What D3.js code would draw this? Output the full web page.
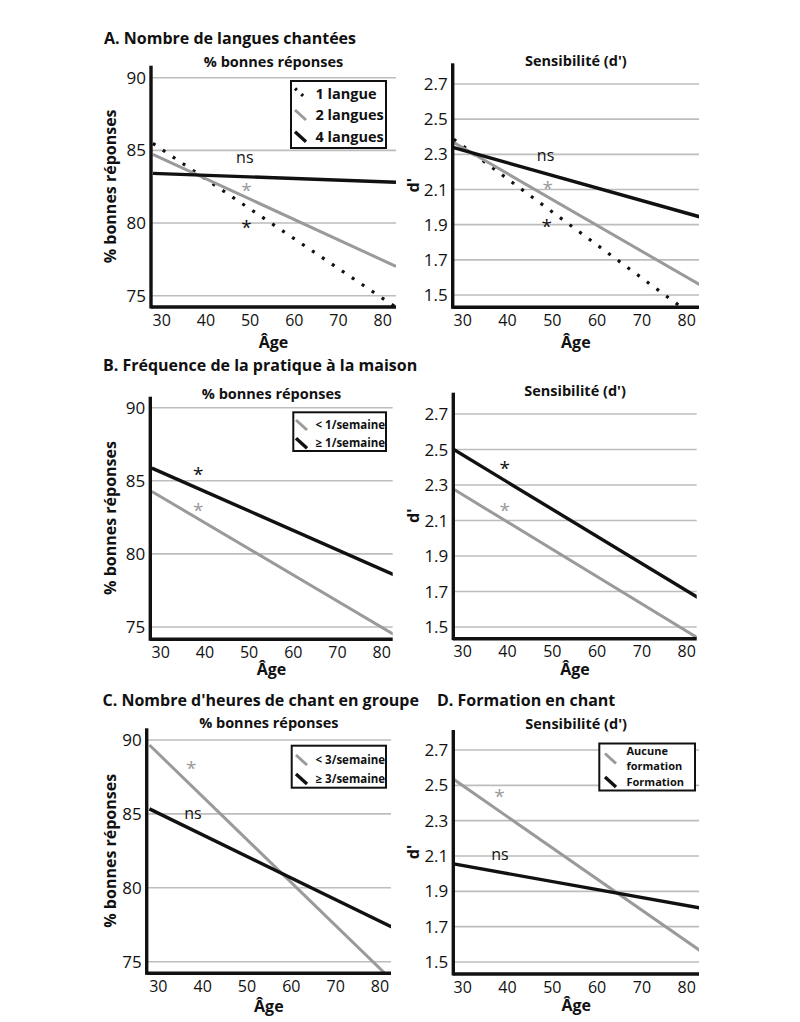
<!DOCTYPE html>
<html><head><meta charset="utf-8">
<script src="https://cdn.jsdelivr.net/npm/d3@7"></script>
<style>
body{margin:0;background:#fff;}
svg{display:block;font-family:"Open Sans",sans-serif;}
</style></head>
<body><svg id="c" width="800" height="1022"></svg>
<script>
// ---------- data ----------
const ages = [28, 83];
const xTicks = [30, 40, 50, 60, 70, 80];
const pctTicks = [75, 80, 85, 90];
const dTicks = [1.5, 1.7, 1.9, 2.1, 2.3, 2.5, 2.7];

// A. Nombre de langues chantées
const langueNames = ["1 langue", "2 langues", "4 langues"];
const A_pct_1 = [85.48, 74.2];
const A_pct_2 = [84.72, 77.02];
const A_pct_4 = [83.42, 82.81];
const A_d_1 = [2.386, 1.352];
const A_d_2 = [2.367, 1.557];
const A_d_4 = [2.338, 1.944];

// B. Fréquence de la pratique à la maison
const freqNames = ["< 1/semaine", "\u2265 1/semaine"];
const B_pct_lt = [84.27, 74.44];
const B_pct_ge = [85.87, 78.54];
const B_d_lt = [2.276, 1.43];
const B_d_ge = [2.5, 1.658];

// C. Nombre d'heures de chant en groupe
const heuresNames = ["< 3/semaine", "\u2265 3/semaine"];
const C_pct_lt = [89.66, 73.66];
const C_pct_ge = [85.34, 77.29];

// D. Formation en chant
const formNames = [["Aucune", "formation"], ["Formation"]];
const D_d_aucune = [2.534, 1.564];
const D_d_form = [2.055, 1.806];

// annotations [age, value, text, kind]
const A_pct_notes = [[48.8, 84.56, "ns", "k"], [49.2, 82.5, "*", "g"], [49.2, 79.93, "*", "k"]];
const A_d_notes = [[48.5, 2.296, "ns", "k"], [49.0, 2.126, "*", "g"], [48.75, 1.908, "*", "k"]];
const B_pct_notes = [[38.5, 85.7, "*", "k"], [38.5, 83.24, "*", "g"]];
const B_d_notes = [[39.4, 2.41, "*", "k"], [39.4, 2.178, "*", "g"]];
const C_pct_notes = [[37.4, 88.31, "*", "g"], [37.8, 85.05, "ns", "k"]];
const D_d_notes = [[38.2, 2.455, "*", "g"], [38.3, 2.111, "ns", "k"]];

// ---------- styles ----------
const GRAY = "#9a9a9a", BLACK = "#111", GRID = "#bdbdbd";
const styles = {
  dot: {color: BLACK, dash: "3,9", width: 3.2},
  gray: {color: GRAY, dash: null, width: 3},
  black: {color: BLACK, dash: null, width: 3.4}
};

const svg = d3.select("#c");

// section titles
const titles = [
  ["A. Nombre de langues chantées", 104, 44],
  ["B. Fréquence de la pratique à la maison", 103, 371],
  ["C. Nombre d'heures de chant en groupe", 102.5, 706],
  ["D. Formation en chant", 437, 706]
];
svg.selectAll("text.title").data(titles).join("text").attr("class", "title")
  .attr("x", d => d[1]).attr("y", d => d[2])
  .attr("font-size", 16).attr("font-weight", 700).attr("fill", BLACK)
  .text(d => d[0]);

const panels = [
  {id: "al", x30: 161.7, x80: 382.7, ax: 151, right: 396, yLo: [75, 295.7], yHi: [90, 77.7], top: 65.7, bot: 307,
   ticks: pctTicks, fmt: d3.format("d"), sub: "% bonnes réponses", subY: 62, ylab: "% bonnes réponses", ylabX: 110, ageY: 342,
   series: [[A_pct_1, "dot"], [A_pct_2, "gray"], [A_pct_4, "black"]], notes: A_pct_notes,
   legend: {x: 291, y: 81, w: 95, h: 67, fs: 14.5, rows: [[[langueNames[0]], "dot", 93.5], [[langueNames[1]], "gray", 115], [[langueNames[2]], "black", 136.7]], symX: 295, textX: 315.5}},
  {id: "ar", x30: 462.7, x80: 686.7, ax: 452.7, right: 699, yLo: [1.5, 295], yHi: [2.7, 84], top: 63.3, bot: 307.3,
   ticks: dTicks, fmt: d3.format(".1f"), sub: "Sensibilité (d')", subY: 61, ylab: "d'", ylabX: 413, ageY: 342,
   series: [[A_d_1, "dot"], [A_d_2, "gray"], [A_d_4, "black"]], notes: A_d_notes},
  {id: "bl", x30: 160.7, x80: 381.7, ax: 150.3, right: 392.7, yLo: [75, 627], yHi: [90, 407.7], top: 396.7, bot: 639.3,
   ticks: pctTicks, fmt: d3.format("d"), sub: "% bonnes réponses", subY: 393.5, ylab: "% bonnes réponses", ylabX: 110, ageY: 669.5,
   series: [[B_pct_lt, "gray"], [B_pct_ge, "black"]], notes: B_pct_notes,
   legend: {x: 293.3, y: 412.3, w: 92.7, h: 38.7, fs: 11.5, rows: [[[freqNames[0]], "gray", 425], [[freqNames[1]], "black", 443.3]], symX: 296, textX: 315.5}},
  {id: "br", x30: 462.7, x80: 686.7, ax: 453.3, right: 696.7, yLo: [1.5, 627], yHi: [2.7, 414], top: 392.7, bot: 638.7,
   ticks: dTicks, fmt: d3.format(".1f"), sub: "Sensibilité (d')", subY: 391, ylab: "d'", ylabX: 413.3, ageY: 669.5,
   series: [[B_d_lt, "gray"], [B_d_ge, "black"]], notes: B_d_notes},
  {id: "cl", x30: 158.3, x80: 380, ax: 146.7, right: 391, yLo: [75, 961.7], yHi: [90, 740], top: 728.3, bot: 973.3,
   ticks: pctTicks, fmt: d3.format("d"), sub: "% bonnes réponses", subY: 723, ylab: "% bonnes réponses", ylabX: 110, ageY: 1006.5,
   series: [[C_pct_lt, "gray"], [C_pct_ge, "black"]], notes: C_pct_notes,
   legend: {x: 291.7, y: 745.7, w: 94.3, h: 42, fs: 11.5, rows: [[[heuresNames[0]], "gray", 760], [[heuresNames[1]], "black", 779]], symX: 296, textX: 315.5}},
  {id: "dr", x30: 462.7, x80: 686.7, ax: 453.3, right: 699, yLo: [1.5, 962], yHi: [2.7, 750], top: 730, bot: 974,
   ticks: dTicks, fmt: d3.format(".1f"), sub: "Sensibilité (d')", subY: 723.5, ylab: "d'", ylabX: 413.3, ageY: 1005,
   series: [[D_d_aucune, "gray"], [D_d_form, "black"]], notes: D_d_notes,
   legend: {x: 599.3, y: 743.5, w: 95.7, h: 47, fs: 11, lh: 14.5, rows: [[formNames[0], "gray", 758.5], [formNames[1], "black", 782]], symX: 605, textX: 626.5}}
];

panels.forEach(p => {
  const x = d3.scaleLinear().domain([30, 80]).range([p.x30, p.x80]);
  const y = d3.scaleLinear().domain([p.yLo[0], p.yHi[0]]).range([p.yLo[1], p.yHi[1]]);
  const g = svg.append("g");
  const cx = (p.ax + p.right) / 2;

  // clip
  const cid = "clip-" + p.id;
  svg.append("clipPath").attr("id", cid).append("rect")
    .attr("x", p.ax).attr("y", p.top).attr("width", p.right - p.ax).attr("height", p.bot - p.top);

  // gridlines
  g.selectAll("line.grid").data(p.ticks).join("line").attr("class", "grid")
    .attr("x1", p.ax).attr("x2", p.right).attr("y1", d => y(d)).attr("y2", d => y(d))
    .attr("stroke", GRID).attr("stroke-width", 1.6);

  // y tick labels
  g.selectAll("text.yt").data(p.ticks).join("text").attr("class", "yt")
    .attr("x", p.ax - 5).attr("y", d => y(d)).attr("dy", "0.36em")
    .attr("text-anchor", "end").attr("font-size", 17).attr("fill", BLACK)
    .text(p.fmt);

  // x tick labels
  g.selectAll("text.xt").data(xTicks).join("text").attr("class", "xt")
    .attr("x", d => x(d)).attr("y", p.bot + 13).attr("dy", "0.36em")
    .attr("text-anchor", "middle").attr("font-size", 16).attr("fill", BLACK)
    .text(d => d);

  // series lines
  const lineGen = d3.line().x(d => x(d[0])).y(d => y(d[1]));
  p.series.forEach(([vals, st]) => {
    const s = styles[st];
    g.append("path").datum(ages.map((a, i) => [a, vals[i]]))
      .attr("clip-path", `url(#${cid})`)
      .attr("d", lineGen).attr("fill", "none")
      .attr("stroke", s.color).attr("stroke-width", s.width)
      .attr("stroke-dasharray", s.dash);
  });

  // axes
  g.append("line").attr("x1", p.ax).attr("x2", p.ax).attr("y1", p.top).attr("y2", p.bot + 1.5)
    .attr("stroke", BLACK).attr("stroke-width", 3.4);
  g.append("line").attr("x1", p.ax).attr("x2", p.right).attr("y1", p.bot).attr("y2", p.bot)
    .attr("stroke", BLACK).attr("stroke-width", 3.4);

  // annotations
  p.notes.forEach(([a, v, t, k]) => {
    const isStar = t === "*";
    g.append("text").attr("x", x(a)).attr("y", y(v) + (isStar ? 10 : 0))
      .attr("dy", isStar ? null : "0.36em")
      .attr("text-anchor", "middle").attr("font-size", isStar ? 19 : 16)
      .attr("fill", k === "g" ? GRAY : BLACK).text(t);
  });

  // subtitle
  g.append("text").attr("x", cx).attr("y", p.subY).attr("dy", "0.36em")
    .attr("text-anchor", "middle").attr("font-size", 14.5).attr("font-weight", 700).attr("fill", BLACK)
    .text(p.sub);

  // y label
  g.append("text").attr("transform", `translate(${p.ylabX},${(p.top + p.bot) / 2}) rotate(-90)`)
    .attr("dy", "0.36em").attr("text-anchor", "middle").attr("font-size", 16).attr("font-weight", 700)
    .attr("fill", BLACK).text(p.ylab);

  // x label
  g.append("text").attr("x", cx).attr("y", p.ageY).attr("dy", "0.36em")
    .attr("text-anchor", "middle").attr("font-size", 16).attr("font-weight", 700).attr("fill", BLACK)
    .text("Âge");

  // legend
  if (p.legend) {
    const L = p.legend;
    const lh = L.lh || 11.3;
    g.append("rect").attr("x", L.x).attr("y", L.y).attr("width", L.w).attr("height", L.h)
      .attr("fill", "#fff").attr("stroke", BLACK).attr("stroke-width", 2);
    L.rows.forEach(([lines, st, ly]) => {
      const s = styles[st];
      g.append("line").attr("x1", L.symX).attr("y1", ly - 5).attr("x2", L.symX + 11).attr("y2", ly + 5)
        .attr("stroke", s.color).attr("stroke-width", s.width)
        .attr("stroke-dasharray", st === "dot" ? "2.5,6" : null);
      lines.forEach((ln, i) => {
        g.append("text").attr("x", L.textX)
          .attr("y", ly + (i - (lines.length - 1) / 2) * lh)
          .attr("dy", "0.36em").attr("font-size", L.fs).attr("font-weight", 700).attr("fill", BLACK)
          .text(ln);
      });
    });
  }
});
</script></body></html>
